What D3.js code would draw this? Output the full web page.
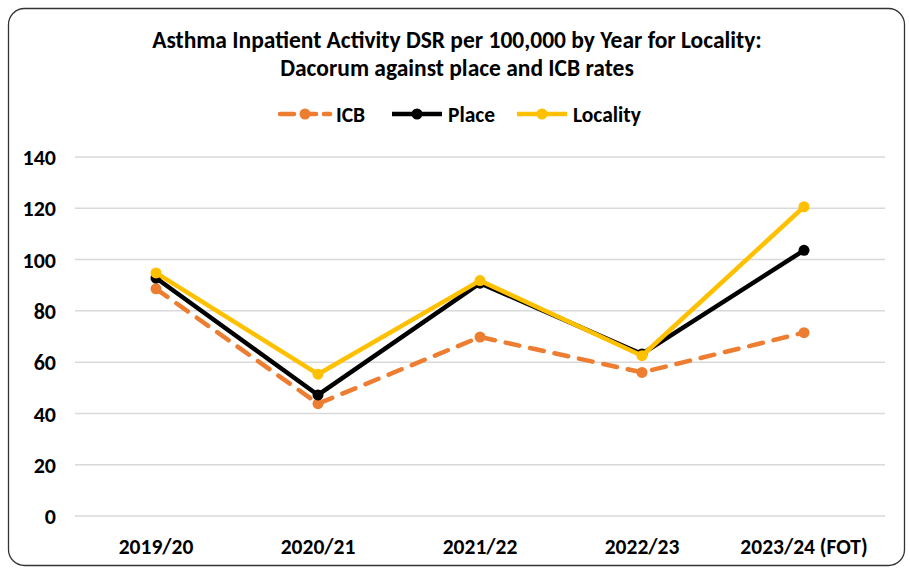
<!DOCTYPE html>
<html><head><meta charset="utf-8">
<script src="https://cdn.jsdelivr.net/npm/d3@7"></script>
<style>
body{margin:0;background:#fff;}
text{font-family:Carlito,Lato,"Open Sans",sans-serif;font-weight:bold;fill:#000;}
</style></head><body>
<svg id="c" width="910" height="570"></svg>
<script>
const categories = ["2019/20","2020/21","2021/22","2022/23","2023/24 (FOT)"];
const icb = [88.6, 43.8, 69.8, 56.0, 71.5];
const place = [92.8, 47.2, 90.8, 63.2, 103.6];
const locality = [94.8, 55.3, 91.8, 62.5, 120.6];
const yTicks = [0,20,40,60,80,100,120,140];
const titleLines = ["Asthma Inpatient Activity DSR per 100,000 by Year for Locality:","Dacorum against place and ICB rates"];

const series = [
  {name:"ICB", values:icb, color:"#ED7D31", dash:"14,11"},
  {name:"Place", values:place, color:"#000000", dash:null},
  {name:"Locality", values:locality, color:"#FFC000", dash:null}
];

const svg = d3.select("#c");
svg.append("rect").attr("x",8.5).attr("y",8.5).attr("width",896).attr("height",557)
  .attr("rx",16).attr("fill","#fff").attr("stroke","#333").attr("stroke-width",1.3);

const x = d3.scaleBand().domain(categories).range([75,885]);
const y = d3.scaleLinear().domain([0,140]).range([516,157]);

// title
svg.append("g").selectAll("text").data(titleLines).join("text")
  .attr("x",457).attr("y",(d,i)=>40+i*28).attr("dy","0.35em").attr("text-anchor","middle")
  .attr("font-size",23.5).attr("textLength",null).text(d=>d);

// grid
svg.append("g").selectAll("line").data(yTicks).join("line")
  .attr("x1",75).attr("x2",885).attr("y1",d=>y(d)).attr("y2",d=>y(d))
  .attr("stroke","#d9d9d9").attr("stroke-width",1.5);

// y axis
const ya = svg.append("g").attr("transform","translate(56,0)")
  .call(d3.axisLeft(y).tickValues(yTicks).tickSize(0).tickPadding(0));
ya.select(".domain").remove();
ya.selectAll("text").attr("font-size",22).attr("font-family",null).attr("dy","0.35em");

// x axis
const xa = svg.append("g").attr("transform","translate(0,546)")
  .call(d3.axisBottom(x).tickSize(0).tickPadding(0));
xa.select(".domain").remove();
xa.selectAll("text").attr("font-size",21.5).attr("font-family",null).attr("dy","0.35em");

const cx = c => x(c)+x.bandwidth()/2;
const line = d3.line().x((d,i)=>cx(categories[i])).y(d=>y(d));

const g = svg.append("g");
series.forEach(s=>{
  g.append("path").attr("d",line(s.values)).attr("fill","none")
    .attr("stroke",s.color).attr("stroke-width",4.5)
    .attr("stroke-dasharray",s.dash).attr("stroke-linecap",s.dash?"round":"butt")
    .attr("stroke-linejoin","round");
  g.selectAll(null).data(s.values).join("circle")
    .attr("cx",(d,i)=>cx(categories[i])).attr("cy",d=>y(d)).attr("r",5.5)
    .attr("fill",s.color);
});

// legend
const legX = [280, 392, 517];
const lg = svg.append("g");
series.forEach((s,i)=>{
  const x0 = legX[i];
  lg.append("line").attr("x1",x0).attr("x2",x0+50).attr("y1",114).attr("y2",114)
    .attr("stroke",s.color).attr("stroke-width",4.5)
    .attr("stroke-dasharray",s.dash?"14,8":null).attr("stroke-linecap",s.dash?"round":"butt");
  lg.append("circle").attr("cx",x0+25).attr("cy",114).attr("r",5.5).attr("fill",s.color);
  lg.append("text").attr("x",x0+56).attr("y",114).attr("dy","0.35em").attr("font-size",21.5).text(s.name);
});
</script>
</body></html>
